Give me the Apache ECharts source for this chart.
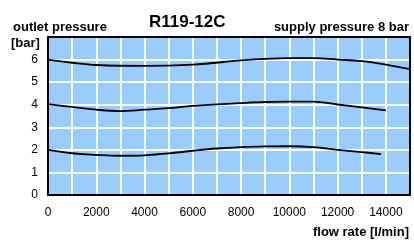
<!DOCTYPE html>
<html>
<head>
<meta charset="utf-8">
<script src="https://cdn.jsdelivr.net/npm/echarts@6/dist/echarts.min.js"></script>
<style>html,body{margin:0;padding:0;background:#fff}#main{width:414px;height:248px}</style>
</head>
<body>
<div id="main"></div>
<script>
var flowTop=[0,1000,2000,4000,6000,8000,9000,10000,11000,12000,13000,14000,15000];
var pressTop=[6.0,5.86,5.76,5.72,5.78,5.96,6.03,6.06,6.06,6.0,5.93,5.78,5.58];
var flowMid=[0,1000,2000,3000,4000,5000,6000,8000,9000,10000,11000,12000,13000,14000];
var pressMid=[4.03,3.9,3.78,3.72,3.78,3.85,3.95,4.07,4.12,4.14,4.14,4.01,3.88,3.75];
var flowLow=[0,1000,2000,3000,4000,5000,6000,7000,8000,9000,10000,11000,12000,13000,13800];
var pressLow=[2.0,1.85,1.78,1.74,1.76,1.84,1.96,2.06,2.12,2.15,2.16,2.12,2.0,1.9,1.81];

function pairs(xs,ys){return xs.map(function(x,i){return [x,ys[i]];});}

var myChart=echarts.init(document.getElementById('main'));
var font='"Liberation Sans", Arial, sans-serif';
function curve(xs,ys){
  return {type:'line',data:pairs(xs,ys),smooth:0.4,showSymbol:false,symbol:'none',
    lineStyle:{color:'#000',width:1.8},z:5};
}
// frame axes: only draw the black border line
function frameX(pos){
  return {type:'value',min:0,max:15000,position:pos,axisLine:{show:true,onZero:false,lineStyle:{color:'#000',width:2}},
    axisTick:{show:false},axisLabel:{show:false},splitLine:{show:false}};
}
function frameY(pos){
  return {type:'value',min:0,max:7,position:pos,axisLine:{show:true,onZero:false,lineStyle:{color:'#000',width:2}},
    axisTick:{show:false},axisLabel:{show:false},splitLine:{show:false}};
}
option={
  animation:false,
  textStyle:{fontFamily:font},
  title:[
    {text:'outlet pressure',left:8,top:16,textStyle:{fontSize:13,fontWeight:'bold',color:'#000',fontFamily:font}},
    {text:'[bar]',left:6,top:32,textStyle:{fontSize:13,fontWeight:'bold',color:'#000',fontFamily:font}},
    {text:'R119-12C',left:144,top:9,textStyle:{fontSize:17,fontWeight:'bold',color:'#000',fontFamily:font}},
    {text:'supply pressure 8 bar',right:0,top:16,textStyle:{fontSize:13,fontWeight:'bold',color:'#000',fontFamily:font}},
    {text:'flow rate [l/min]',right:0,top:221,textStyle:{fontSize:13,fontWeight:'bold',color:'#000',fontFamily:font}}
  ],
  grid:{left:48,right:4,top:37,bottom:53,show:true,backgroundColor:'#99ccff',borderWidth:0},
  xAxis:[{type:'value',min:0,max:15000,interval:1000,position:'bottom',
    axisLine:{show:true,onZero:false,lineStyle:{color:'#000',width:2}},axisTick:{show:false},
    axisLabel:{color:'#000',fontSize:12,margin:12,fontFamily:font,
      formatter:function(v){return (v%2000===0&&v<15000)?String(v):'';}},
    splitLine:{show:true,lineStyle:{color:'#fff',width:2}}},frameX('top')],
  yAxis:[{type:'value',min:0,max:7,interval:1,position:'left',
    axisLine:{show:true,onZero:false,lineStyle:{color:'#000',width:2}},axisTick:{show:false},
    axisLabel:{color:'#000',fontSize:12,margin:10,fontFamily:font,
      formatter:function(v){return v<7?String(v):'';}},
    splitLine:{show:true,lineStyle:{color:'#fff',width:2}}},frameY('right')],
  series:[curve(flowTop,pressTop),curve(flowMid,pressMid),curve(flowLow,pressLow)]
};
myChart.setOption(option);
</script>
</body>
</html>
